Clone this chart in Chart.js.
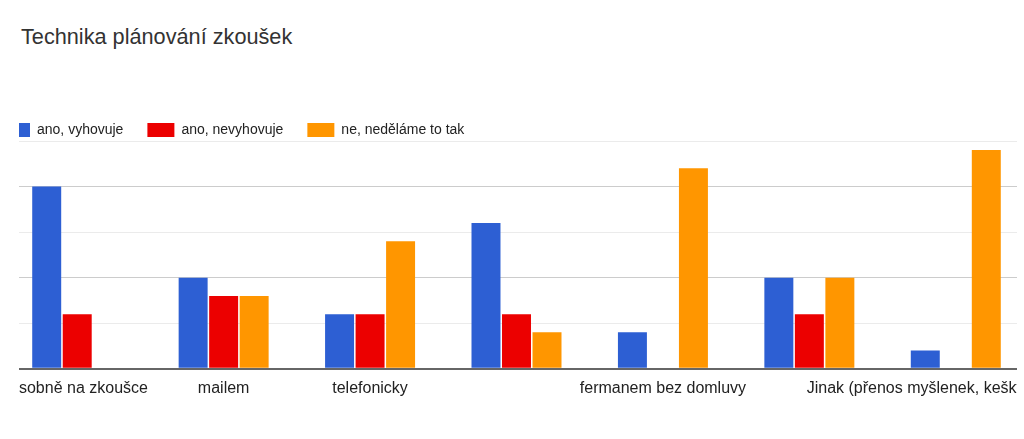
<!DOCTYPE html>
<html lang="cs">
<head>
<meta charset="utf-8">
<title>Technika plánování zkoušek</title>
<script src="https://cdn.jsdelivr.net/npm/chart.js@4/dist/chart.umd.min.js"></script>
<style>
  html, body { margin: 0; padding: 0; background: #ffffff; overflow: hidden; width: 1024px; height: 439px; }
  #title {
    position: absolute; left: 21px; top: 25px;
    font-family: Arial, "Liberation Sans", sans-serif; font-size: 21.7px; line-height: 1.15;
    color: #333333; white-space: nowrap;
  }
  #wrap { position: absolute; left: -21px; top: 0; width: 1060px; height: 439px; }
</style>
</head>
<body>
<div id="title">Technika plánování zkoušek</div>
<div id="wrap"><canvas id="chart"></canvas></div>
<script>
// ---- data ----
const categories = [
  'Osobně na zkoušce',
  'mailem',
  'telefonicky',
  '',
  'fermanem bez domluvy',
  '',
  'Jinak (přenos myšlenek, kešky, sovy, atd.)'
];
const seriesNames = ['ano, vyhovuje', 'ano, nevyhovuje', 'ne, neděláme to tak'];
const anoVyhovuje   = [10, 5, 3, 8, 2, 5, 1];
const anoNevyhovuje = [3, 4, 3, 3, 0, 3, 0];
const neNedelame    = [0, 4, 7, 2, 11, 5, 12];
const yTicks = [0, 2.5, 5, 7.5, 10, 12.5];

// ---- styling ----
const colors = ['#2d5fd3', '#ec0000', '#ff9600'];
Chart.defaults.font.family = 'Arial, "Liberation Sans", sans-serif';
Chart.defaults.color = '#222222';

const cropClip = {
  id: 'cropClip',
  beforeDraw(chart) {
    const ctx = chart.ctx;
    ctx.save();
    ctx.beginPath();
    ctx.rect(40, 0, 998, chart.height);
    ctx.clip();
  },
  afterDraw(chart) { chart.ctx.restore(); }
};

const seriesValues = [anoVyhovuje, anoNevyhovuje, neNedelame];

new Chart(document.getElementById('chart'), {
  type: 'bar',
  data: {
    labels: categories,
    datasets: seriesNames.map((name, i) => ({
      label: name,
      data: seriesValues[i],
      backgroundColor: colors[i],
      borderWidth: 0,
      categoryPercentage: 0.625,
      barPercentage: 0.95
    }))
  },
  options: {
    responsive: true,
    maintainAspectRatio: false,
    animation: false,
    layout: { padding: { top: 99, left: 0, right: 10, bottom: 39 } },
    plugins: {
      title: { display: false },
      tooltip: { enabled: false },
      legend: {
        display: true,
        position: 'top',
        align: 'start',
        maxHeight: 42,
        labels: {
          boxWidth: 27,
          boxHeight: 14,
          padding: 24,
          color: '#222222',
          font: { size: 14 }
        }
      }
    },
    scales: {
      x: {
        grid: { display: false },
        border: { display: false },
        afterFit(scale) { scale.paddingLeft = 0; scale.paddingRight = 0; },
        ticks: {
          autoSkip: false,
          maxRotation: 0,
          minRotation: 0,
          padding: 2,
          color: '#222222',
          font: { size: 16 }
        }
      },
      y: {
        min: 0,
        max: yTicks[yTicks.length - 1],
        afterBuildTicks(scale) { scale.ticks = yTicks.map(v => ({ value: v })); },
        afterFit(scale) { scale.width = 25; },
        border: { display: false },
        ticks: { display: false },
        grid: {
          drawTicks: false,
          color: ctx => ctx.tick.value === 0 ? '#666666' : (ctx.tick.value % 5 === 0 ? '#cccccc' : '#ebebeb'),
          lineWidth: ctx => ctx.tick.value === 0 ? 2 : 1
        }
      }
    }
  },
  plugins: [cropClip]
});
</script>
</body>
</html>
